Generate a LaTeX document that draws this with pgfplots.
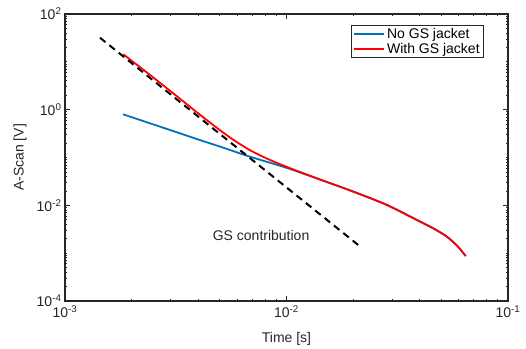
\documentclass[border=0pt]{standalone}
\usepackage{fontspec}
\setmainfont{Liberation Sans}
\usepackage{pgfplots}
\pgfplotsset{compat=1.18}
\definecolor{mblue}{rgb}{0,0.447,0.741}
\definecolor{axgray}{rgb}{0.15,0.15,0.15}
\begin{document}
\begin{tikzpicture}
\begin{axis}[
  scale only axis, width=443bp, height=287bp,
  xmode=log, ymode=log,
  xmin=1e-3, xmax=1e-1, ymin=1e-4, ymax=1e2,
  xtick={1e-3,1e-2,1e-1},
  xticklabels={10\textsuperscript{-3},10\textsuperscript{-2},10\textsuperscript{-1}},
  ytick={1e-4,1e-2,1e0,1e2},
  yticklabels={10\textsuperscript{-4},10\textsuperscript{-2},10\textsuperscript{0},10\textsuperscript{2}},
  minor xtick={2e-3,3e-3,4e-3,5e-3,6e-3,7e-3,8e-3,9e-3,2e-2,3e-2,4e-2,5e-2,6e-2,7e-2,8e-2,9e-2},
  minor ytick={2e-4,3e-4,4e-4,5e-4,6e-4,7e-4,8e-4,9e-4,1e-3,2e-3,3e-3,4e-3,5e-3,6e-3,7e-3,8e-3,9e-3,
               2e-2,3e-2,4e-2,5e-2,6e-2,7e-2,8e-2,9e-2,1e-1,2e-1,3e-1,4e-1,5e-1,6e-1,7e-1,8e-1,9e-1,
               2,3,4,5,6,7,8,9,10,20,30,40,50,60,70,80,90},
  tick align=inside,
  major tick length=5bp, minor tick length=2.5bp,
  axis line style={axgray, line width=1.2bp},
  every tick/.style={axgray, line width=0.8bp},
  tick label style={text=axgray},
  xticklabel style={yshift=-1bp},
  font=\fontsize{14bp}{16bp}\selectfont,
  xlabel={Time [s]}, ylabel={A-Scan [V]},
  every axis x label/.style={at={(axis description cs:0.5,-0.132)}, anchor=center, text=axgray},
  every axis y label/.style={at={(axis description cs:-0.1016,0.5)}, anchor=center, rotate=90, text=axgray},
  legend style={at={(axis description cs:0.946,0.962)}, anchor=north east,
    draw=axgray, line width=0.8bp, fill=white, inner xsep=2bp, inner ysep=1bp,
    font=\fontsize{14bp}{16bp}\selectfont, row sep=-1bp},
  legend cell align=left,
  legend image code/.code={\draw[#1] (0bp,0bp) -- (30bp,0bp);},
]
\addplot[mblue, line width=1.8bp, smooth, tension=0.5] table {
x y
1.828e-3 0.80
2.42e-3 0.519
3.30e-3 0.321
4.06e-3 0.232
5.01e-3 0.169
6.84e-3 0.104
9.67e-3 0.0640
0.01151 0.0487
0.01572 0.0291
0.02003 0.0194
0.02833 0.0103
0.04008 4.60e-3
0.04677 3.18e-3
0.05289 2.23e-3
0.0589 1.44e-3
0.06443 8.7e-4
};
\addlegendentry{No GS jacket}
\addplot[red, line width=1.8bp, smooth, tension=0.5] table {
x y
1.833e-3 14.36
2.42e-3 5.33
3.30e-3 1.703
4.06e-3 0.788
5.01e-3 0.372
5.76e-3 0.2344
6.84e-3 0.1421
8.14e-3 0.0953
9.67e-3 0.0680
0.01151 0.0497
0.01572 0.02915
0.02003 0.0193
0.02833 0.01016
0.04008 4.55e-3
0.04677 3.15e-3
0.05289 2.21e-3
0.0589 1.43e-3
0.06443 8.7e-4
};
\addlegendentry{With GS jacket}
\addplot[black, line width=2bp, dash pattern=on 7bp off 5bp, forget plot] table {
x y
1.439e-3 31.9
0.02109 1.48e-3
};
\node[text=axgray, font=\fontsize{14bp}{16bp}\selectfont] at (axis cs:7.68e-3,2.29e-3) {GS contribution};
\end{axis}
\pgfresetboundingbox
\path (-65bp,-48bp) rectangle (461bp,301bp);
\end{tikzpicture}
\end{document}
